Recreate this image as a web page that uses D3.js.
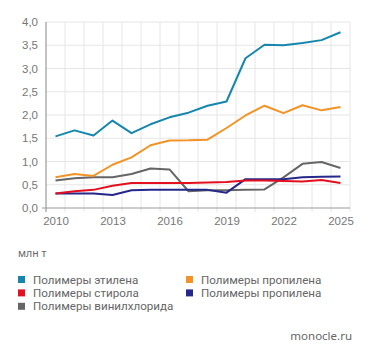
<!DOCTYPE html>
<html lang="ru">
<head>
<meta charset="UTF-8">
<title>Полимеры</title>
<style>
    body { margin: 0; background: #fff; }
    svg { display: block; font-family: "Noto Sans", sans-serif; }
    .axis .domain { display: none; }
    .axis text { fill: #777; font-size: 11.5px; }
</style>
</head>
<body>
<svg width="371" height="357"></svg>
<script src="https://d3js.org/d3.v7.min.js"></script>
<script>
var years = d3.range(2010, 2026);
var yTicks = [0, 0.5, 1, 1.5, 2, 2.5, 3, 3.5, 4];
var xTicks = [2010, 2013, 2016, 2019, 2022, 2025];

// млн т
var ethylene  = [1.54, 1.67, 1.56, 1.88, 1.61, 1.80, 1.95, 2.05, 2.20, 2.29, 3.22, 3.51, 3.50, 3.55, 3.61, 3.78];
var propylene = [0.66, 0.73, 0.69, 0.93, 1.09, 1.35, 1.45, 1.455, 1.47, 1.72, 1.99, 2.20, 2.04, 2.21, 2.10, 2.17];
var vinyl     = [0.59, 0.64, 0.66, 0.66, 0.73, 0.85, 0.83, 0.36, 0.38, 0.38, 0.39, 0.40, 0.66, 0.95, 0.99, 0.86];
var styrene   = [0.31, 0.36, 0.39, 0.48, 0.54, 0.54, 0.54, 0.54, 0.55, 0.56, 0.59, 0.59, 0.58, 0.57, 0.60, 0.54];
var propylene2= [0.31, 0.31, 0.31, 0.28, 0.38, 0.39, 0.39, 0.39, 0.39, 0.33, 0.62, 0.62, 0.62, 0.66, 0.67, 0.68];

var series = [
    {name: "Полимеры винилхлорида", values: vinyl, color: "#666666"},
    {name: "Полимеры пропилена", values: propylene2, color: "#25288a"},
    {name: "Полимеры стирола", values: styrene, color: "#e3101f"},
    {name: "Полимеры пропилена", values: propylene, color: "#f39325"},
    {name: "Полимеры этилена", values: ethylene, color: "#1586ad"}
];
var legendOrder = [4, 3, 2, 1, 0];

var svg = d3.select("svg"),
    margin = {top: 22, right: 21, bottom: 149, left: 46},
    width = +svg.attr("width") - margin.left - margin.right,
    height = +svg.attr("height") - margin.top - margin.bottom,
    g = svg.append("g").attr("transform", "translate(" + margin.left + "," + margin.top + ")");

var x = d3.scaleLinear().domain([2009.5, 2025.5]).range([0, width]);
var y = d3.scaleLinear().domain([0, 4]).range([height, 0]);

// grid
g.append("g")
    .selectAll("line")
    .data(d3.range(2010.5, 2025.6, 1))
    .enter().append("line")
    .attr("x1", function(d){ return x(d); })
    .attr("x2", function(d){ return x(d); })
    .attr("y1", 0)
    .attr("y2", height + 4)
    .attr("stroke", "#e6e6e6");
g.append("g")
    .selectAll("line")
    .data(yTicks.slice(1))
    .enter().append("line")
    .attr("x1", 0)
    .attr("x2", width)
    .attr("y1", function(d){ return y(d); })
    .attr("y2", function(d){ return y(d); })
    .attr("stroke", "#e6e6e6");

// axes
g.append("g")
    .attr("class", "axis")
    .call(d3.axisLeft(y).tickValues(yTicks).tickSize(0).tickPadding(8)
        .tickFormat(function(d){ return d3.format(".1f")(d).replace(".", ","); }));
g.append("g")
    .attr("class", "axis")
    .attr("transform", "translate(0," + height + ")")
    .call(d3.axisBottom(x).tickValues(xTicks).tickSize(0).tickPadding(9).tickFormat(d3.format("d")));

g.append("line")
    .attr("x1", 0).attr("x2", 0).attr("y1", 0).attr("y2", height + 4)
    .attr("stroke", "#999").attr("stroke-width", 1.2);
g.append("line")
    .attr("x1", -4).attr("x2", width).attr("y1", height).attr("y2", height)
    .attr("stroke", "#999").attr("stroke-width", 1.2);

// lines
var line = d3.line()
    .x(function(d, i){ return x(years[i]); })
    .y(function(d){ return y(d); });

g.append("g")
    .selectAll("path")
    .data(series)
    .enter().append("path")
    .attr("fill", "none")
    .attr("stroke", function(d){ return d.color; })
    .attr("stroke-width", 2)
    .attr("stroke-linejoin", "round")
    .attr("d", function(d){ return line(d.values); });

// units
svg.append("text")
    .attr("x", 18).attr("y", 257)
    .attr("fill", "#666").attr("font-size", 10.5)
    .text("млн т");

// legend
var legend = svg.append("g")
    .selectAll("g")
    .data(legendOrder.map(function(i){ return series[i]; }))
    .enter().append("g")
    .attr("transform", function(d, i){
        return "translate(" + (i % 2 ? 186 : 18) + "," + (279.5 + Math.floor(i / 2) * 13.4) + ")";
    });
legend.append("rect")
    .attr("x", 0).attr("y", -3.5)
    .attr("width", 7).attr("height", 7)
    .attr("fill", function(d){ return d.color; });
legend.append("text")
    .attr("x", 15).attr("y", 0)
    .attr("dy", "0.35em")
    .attr("fill", "#666")
    .style("font-family", "Roboto, sans-serif")
    .attr("font-size", 11.6)
    .text(function(d){ return d.name; });

svg.append("text")
    .attr("x", 352).attr("y", 340)
    .attr("text-anchor", "end")
    .attr("fill", "#666").attr("font-size", 11.5)
    .text("monocle.ru");
</script>
</body>
</html>
